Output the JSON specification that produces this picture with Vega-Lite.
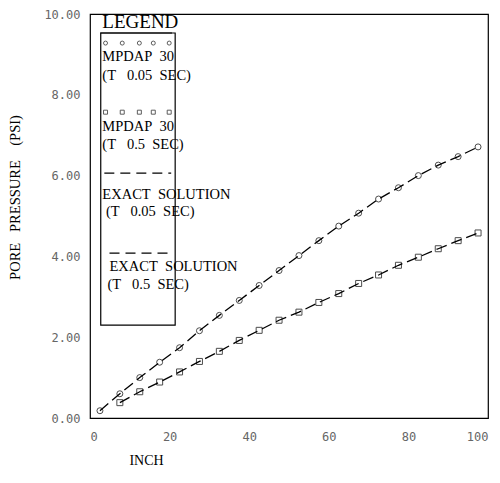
{
  "$schema": "https://vega.github.io/schema/vega-lite/v6.json",
  "width": 398,
  "height": 404,
  "autosize": "none",
  "padding": {"left": 90, "top": 14, "right": 12, "bottom": 65},
  "background": "white",
  "config": {"view": {"stroke": "black", "strokeWidth": 1.2}},
  "datasets": {
    "series": [
      {"series": "T=0.05", "x": 2.5, "y": 0.18},
      {"series": "T=0.05", "x": 7.5, "y": 0.6},
      {"series": "T=0.05", "x": 12.5, "y": 1.0},
      {"series": "T=0.05", "x": 17.5, "y": 1.38},
      {"series": "T=0.05", "x": 22.5, "y": 1.74},
      {"series": "T=0.05", "x": 27.5, "y": 2.16},
      {"series": "T=0.05", "x": 32.5, "y": 2.54},
      {"series": "T=0.05", "x": 37.5, "y": 2.91},
      {"series": "T=0.05", "x": 42.5, "y": 3.28},
      {"series": "T=0.05", "x": 47.5, "y": 3.65},
      {"series": "T=0.05", "x": 52.5, "y": 4.02},
      {"series": "T=0.05", "x": 57.5, "y": 4.39},
      {"series": "T=0.05", "x": 62.5, "y": 4.75},
      {"series": "T=0.05", "x": 67.5, "y": 5.07},
      {"series": "T=0.05", "x": 72.5, "y": 5.42},
      {"series": "T=0.05", "x": 77.5, "y": 5.7},
      {"series": "T=0.05", "x": 82.5, "y": 6.0},
      {"series": "T=0.05", "x": 87.5, "y": 6.26},
      {"series": "T=0.05", "x": 92.5, "y": 6.47},
      {"series": "T=0.05", "x": 97.5, "y": 6.71},
      {"series": "T=0.5", "x": 7.5, "y": 0.38},
      {"series": "T=0.5", "x": 12.5, "y": 0.65},
      {"series": "T=0.5", "x": 17.5, "y": 0.89},
      {"series": "T=0.5", "x": 22.5, "y": 1.14},
      {"series": "T=0.5", "x": 27.5, "y": 1.4},
      {"series": "T=0.5", "x": 32.5, "y": 1.65},
      {"series": "T=0.5", "x": 37.5, "y": 1.92},
      {"series": "T=0.5", "x": 42.5, "y": 2.17},
      {"series": "T=0.5", "x": 47.5, "y": 2.42},
      {"series": "T=0.5", "x": 52.5, "y": 2.62},
      {"series": "T=0.5", "x": 57.5, "y": 2.86},
      {"series": "T=0.5", "x": 62.5, "y": 3.08},
      {"series": "T=0.5", "x": 67.5, "y": 3.33},
      {"series": "T=0.5", "x": 72.5, "y": 3.54},
      {"series": "T=0.5", "x": 77.5, "y": 3.78},
      {"series": "T=0.5", "x": 82.5, "y": 3.98},
      {"series": "T=0.5", "x": 87.5, "y": 4.19},
      {"series": "T=0.5", "x": 92.5, "y": 4.39},
      {"series": "T=0.5", "x": 97.5, "y": 4.58}
    ],
    "legendSymbols": [
      {"series": "T=0.05", "x": 3.9, "y": 9.28},
      {"series": "T=0.05", "x": 8.1, "y": 9.28},
      {"series": "T=0.05", "x": 12.4, "y": 9.28},
      {"series": "T=0.05", "x": 15.9, "y": 9.28},
      {"series": "T=0.05", "x": 19.9, "y": 9.28},
      {"series": "T=0.5", "x": 3.9, "y": 7.57},
      {"series": "T=0.5", "x": 8.1, "y": 7.57},
      {"series": "T=0.5", "x": 12.4, "y": 7.57},
      {"series": "T=0.5", "x": 15.9, "y": 7.57},
      {"series": "T=0.5", "x": 19.9, "y": 7.57}
    ],
    "legendDash": [
      {"x": 3.6, "x2": 20.4, "y": 6.06},
      {"x": 4.9, "x2": 20.4, "y": 4.08}
    ],
    "legendUnderline": [
      {"x": 2.6, "x2": 20.6, "y": 9.53}
    ],
    "legendBox": [
      {"x": 2.7, "x2": 21.4, "y": 9.53, "y2": 2.3}
    ],
    "legendText": [
      {"label": "LEGEND", "x": 3.1, "y": 9.8, "size": 19},
      {"label": "MPDAP\u00a0\u00a030", "x": 3.1, "y": 8.94, "size": 14.5},
      {"label": "(T\u00a0\u00a0\u00a00.05\u00a0\u00a0SEC)", "x": 3.1, "y": 8.47, "size": 14.5},
      {"label": "MPDAP\u00a0\u00a030", "x": 3.1, "y": 7.2, "size": 14.5},
      {"label": "(T\u00a0\u00a0\u00a00.5\u00a0\u00a0SEC)", "x": 3.1, "y": 6.76, "size": 14.5},
      {"label": "EXACT\u00a0\u00a0SOLUTION", "x": 3.1, "y": 5.52, "size": 14.5},
      {"label": "(T\u00a0\u00a0\u00a00.05\u00a0\u00a0SEC)", "x": 4.0, "y": 5.1, "size": 14.5},
      {"label": "EXACT\u00a0\u00a0SOLUTION", "x": 4.9, "y": 3.74, "size": 14.5},
      {"label": "(T\u00a0\u00a0\u00a00.5\u00a0\u00a0SEC)", "x": 4.4, "y": 3.29, "size": 14.5}
    ]
  },
  "encoding": {
    "x": {
      "field": "x", "type": "quantitative",
      "scale": {"domain": [0, 100], "nice": false},
      "axis": {
        "values": [0, 20, 40, 60, 80, 100], "format": "d",
        "ticks": false, "domain": false, "grid": false,
        "labelFont": "DejaVu Sans Mono", "labelFontSize": 12, "labelColor": "#666",
        "labelPadding": 13,
        "title": "INCH", "titleFont": "Liberation Serif", "titleFontSize": 14,
        "titleFontWeight": "normal", "titleColor": "black",
        "titleX": 56, "titleY": 42, "titleAlign": "center", "titleBaseline": "middle"
      }
    },
    "y": {
      "field": "y", "type": "quantitative",
      "scale": {"domain": [0, 10], "nice": false},
      "axis": {
        "values": [0, 2, 4, 6, 8, 10], "format": ".2f",
        "ticks": false, "domain": false, "grid": false,
        "labelFont": "DejaVu Sans Mono", "labelFontSize": 12, "labelColor": "#666",
        "labelPadding": 10,
        "title": "PORE\u00a0\u00a0\u00a0PRESSURE\u00a0\u00a0\u00a0\u00a0(PSI)", "titleFont": "Liberation Serif", "titleFontSize": 14.5,
        "titleFontWeight": "normal", "titleColor": "black",
        "titleX": -75, "titleY": 183, "titleAlign": "center", "titleBaseline": "middle"
      }
    }
  },
  "layer": [
    {
      "data": {"name": "series"},
      "mark": {"type": "line", "color": "black", "strokeWidth": 1.3, "strokeDash": [11, 5]},
      "encoding": {
        "detail": {"field": "series"}
      }
    },
    {
      "data": {"name": "series"},
      "mark": {"type": "point", "filled": false, "color": "black", "strokeWidth": 1, "size": 36},
      "encoding": {
        "shape": {"field": "series", "type": "nominal", "scale": {"domain": ["T=0.05", "T=0.5"], "range": ["circle", "square"]}, "legend": null}
      }
    },
    {
      "data": {"name": "legendBox"},
      "mark": {"type": "rect", "fill": null, "fillOpacity": 0, "stroke": "black", "strokeWidth": 1.2},
      "encoding": {
        "x2": {"field": "x2"},
        "y2": {"field": "y2"}
      }
    },
    {
      "data": {"name": "legendUnderline"},
      "mark": {"type": "rule", "color": "black", "strokeWidth": 1.2},
      "encoding": {
        "x2": {"field": "x2"}
      }
    },
    {
      "data": {"name": "legendDash"},
      "mark": {"type": "rule", "color": "black", "strokeWidth": 1.2, "strokeDash": [10, 6]},
      "encoding": {
        "x2": {"field": "x2"}
      }
    },
    {
      "data": {"name": "legendSymbols"},
      "mark": {"type": "point", "filled": false, "color": "black", "strokeWidth": 0.9, "size": 16},
      "encoding": {
        "shape": {"field": "series", "type": "nominal", "legend": null}
      }
    },
    {
      "data": {"name": "legendText"},
      "mark": {"type": "text", "align": "left", "baseline": "middle", "font": "Liberation Serif", "color": "black"},
      "encoding": {
        "text": {"field": "label"},
        "size": {"field": "size", "type": "quantitative", "scale": null}
      }
    }
  ]
}
